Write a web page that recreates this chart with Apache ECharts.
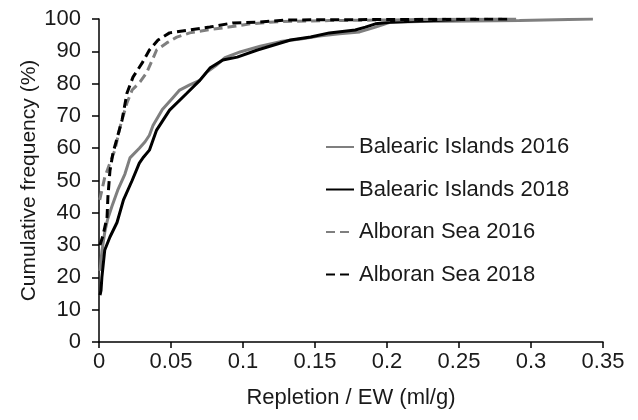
<!DOCTYPE html>
<html>
<head>
<meta charset="utf-8">
<script src="https://cdn.jsdelivr.net/npm/echarts@6/dist/echarts.min.js"></script>
<style>html,body{margin:0;padding:0;background:#fff;}#c{width:638px;height:420px;}</style>
</head>
<body>
<div id="c"></div>
<script>
var seriesNames = ['Balearic Islands 2016', 'Balearic Islands 2018', 'Alboran Sea 2016', 'Alboran Sea 2018'];
var xTicks = [0, 0.05, 0.1, 0.15, 0.2, 0.25, 0.3, 0.35];
var yTicks = [0, 10, 20, 30, 40, 50, 60, 70, 80, 90, 100];

var bal16X = [0.0007,0.002,0.004,0.006,0.009,0.013,0.018,0.0215,0.028,0.032,0.035,0.0375,0.044,0.051,0.056,0.063,0.070,0.075,0.081,0.0875,0.098,0.112,0.126,0.140,0.153,0.167,0.181,0.192,0.202,0.223,0.258,0.292,0.343];
var bal16Y = [22,28,34,38,42,47,52,57,60,62,64,67,72,75.5,78,79.6,81,83.6,85.5,88,89.8,91.6,93,93.8,94.7,95.4,96,97.5,99,99.2,99.4,99.5,100];

var bal18X = [0.0007,0.0014,0.002,0.004,0.0076,0.0125,0.017,0.023,0.028,0.031,0.035,0.040,0.049,0.061,0.070,0.077,0.086,0.096,0.110,0.133,0.147,0.160,0.178,0.185,0.192,0.202,0.223,0.262];
var bal18Y = [14.5,16,20,28.5,32.5,37,44,50,55.4,57.3,59.4,65.6,71.8,77,81,84.8,87.3,88.2,90.4,93.5,94.4,95.7,96.6,97.5,98.5,99,99.4,100];

var alb16X = [0.0005,0.002,0.004,0.0076,0.011,0.0146,0.0194,0.023,0.0285,0.033,0.037,0.040,0.047,0.054,0.063,0.075,0.090,0.105,0.125,0.160,0.200,0.240,0.290];
var alb16Y = [44,47,51,55.4,59.4,66.5,74,78,80.5,83.3,87.3,90.4,92.6,94.4,95.7,96.6,97.5,98.5,99.2,99.5,99.7,99.9,100];

var alb18X = [0.0007,0.0028,0.0056,0.0062,0.0076,0.0097,0.016,0.0194,0.0236,0.030,0.035,0.041,0.049,0.063,0.077,0.093,0.110,0.130,0.284];
var alb18Y = [30,33,38.7,45,53,58.5,68.7,77,82,86.4,90.4,93.5,95.7,96.6,97.5,98.8,99,99.7,100];

function pairs(xs, ys) { return xs.map(function (x, i) { return [x, ys[i]]; }); }

var font = 'Liberation Sans, Arial, sans-serif';
var txt = '#1a1a1a';
var chart = echarts.init(document.getElementById('c'), null, {renderer: 'canvas'});
chart.setOption({
  animation: false,
  backgroundColor: '#fff',
  grid: {left: 99, right: 35, top: 19, bottom: 78},
  legend: {
    orient: 'vertical', left: 320, top: 131,
    itemWidth: 28, itemHeight: 22, itemGap: 20.5,
    itemStyle: {opacity: 0},
    textStyle: {fontFamily: font, fontSize: 22, color: txt},
    data: seriesNames
  },
  xAxis: {
    type: 'value', min: 0, max: 0.35, interval: 0.05,
    name: 'Repletion / EW (ml/g)', nameLocation: 'middle', nameGap: 45,
    nameMoveOverlap: false,
    nameTextStyle: {fontFamily: font, fontSize: 22, color: txt},
    axisLine: {lineStyle: {color: '#000', width: 1.5}},
    axisTick: {show: true, length: 6, lineStyle: {color: '#000', width: 1.5}},
    axisLabel: {fontFamily: font, fontSize: 22, color: txt, margin: 9,
      formatter: function (v) { return String(+v.toFixed(2)); }},
    splitLine: {show: false}
  },
  yAxis: {
    type: 'value', min: 0, max: 100, interval: 10,
    name: 'Cumulative frequency (%)', nameLocation: 'middle', nameGap: 59,
    nameMoveOverlap: false,
    nameTextStyle: {fontFamily: font, fontSize: 21, color: txt},
    axisLine: {show: true, lineStyle: {color: '#000', width: 1.5}},
    axisTick: {show: true, length: 7, lineStyle: {color: '#000', width: 1.5}},
    axisLabel: {fontFamily: font, fontSize: 22, color: txt, margin: 18},
    splitLine: {show: false}
  },
  series: [
    {name: seriesNames[0], type: 'line', symbol: 'none', data: pairs(bal16X, bal16Y),
      lineStyle: {color: '#7f7f7f', width: 3}, itemStyle: {color: '#7f7f7f'}},
    {name: seriesNames[1], type: 'line', symbol: 'none', data: pairs(bal18X, bal18Y),
      lineStyle: {color: '#000', width: 3}, itemStyle: {color: '#000'}},
    {name: seriesNames[2], type: 'line', symbol: 'none', data: pairs(alb16X, alb16Y),
      lineStyle: {color: '#7f7f7f', width: 3, type: [9, 5]}, itemStyle: {color: '#7f7f7f'}},
    {name: seriesNames[3], type: 'line', symbol: 'none', data: pairs(alb18X, alb18Y),
      lineStyle: {color: '#000', width: 3, type: [9, 5]}, itemStyle: {color: '#000'}}
  ]
});
</script>
</body>
</html>
